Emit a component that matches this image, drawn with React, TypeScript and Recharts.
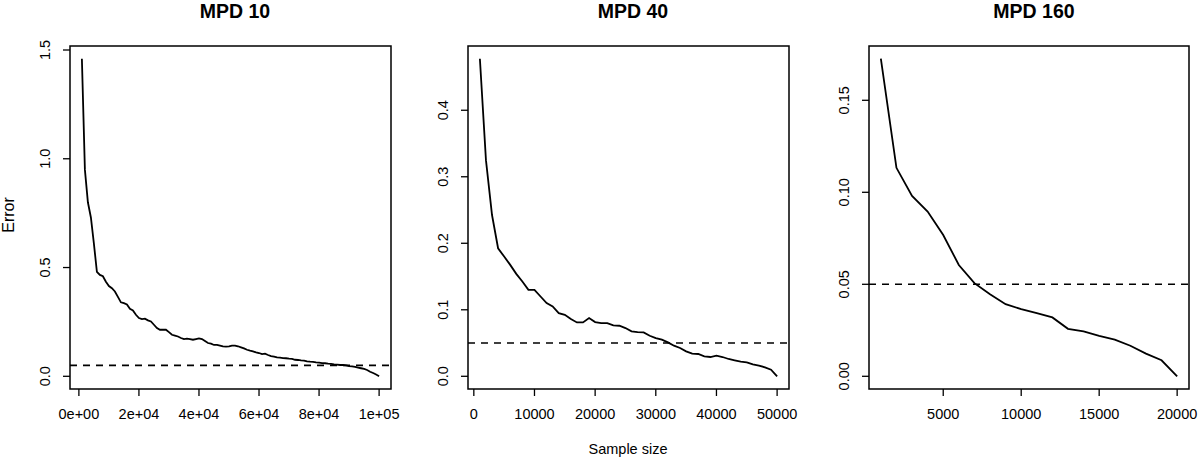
import React from 'react'
import { LineChart, Line, XAxis, YAxis, ReferenceLine, ReferenceArea } from 'recharts'

// sample sizes (thousands) and errors
const sizesK10 = [
  1, 2, 3, 4, 5, 6, 7, 8, 9, 10, 11, 12, 13, 14, 15, 16, 17, 18, 19, 20,
  21, 22, 23, 24, 25, 26, 27, 28, 29, 30, 31, 32, 33, 34, 35, 36, 37, 38, 39, 40,
  41, 42, 43, 44, 45, 46, 47, 48, 49, 50, 51, 52, 53, 54, 55, 56, 57, 58, 59, 60,
  61, 62, 63, 64, 65, 66, 67, 68, 69, 70, 71, 72, 73, 74, 75, 76, 77, 78, 79, 80,
  81, 82, 83, 84, 85, 86, 87, 88, 89, 90, 91, 92, 93, 94, 95, 96, 97, 98, 99, 100,
]
const error10 = [
  1.46, 0.95, 0.8, 0.73, 0.61, 0.48, 0.466, 0.46, 0.435, 0.415,
  0.405, 0.39, 0.365, 0.34, 0.336, 0.33, 0.31, 0.303, 0.283, 0.268,
  0.263, 0.265, 0.257, 0.252, 0.237, 0.222, 0.214, 0.214, 0.214, 0.203,
  0.191, 0.187, 0.183, 0.176, 0.171, 0.173, 0.171, 0.168, 0.171, 0.174,
  0.171, 0.162, 0.153, 0.15, 0.144, 0.144, 0.141, 0.138, 0.136, 0.138,
  0.141, 0.141, 0.138, 0.133, 0.128, 0.122, 0.118, 0.115, 0.11, 0.107,
  0.102, 0.104, 0.098, 0.093, 0.09, 0.087, 0.086, 0.084, 0.083, 0.081,
  0.08, 0.076, 0.075, 0.073, 0.072, 0.069, 0.067, 0.066, 0.064, 0.063,
  0.061, 0.06, 0.058, 0.057, 0.055, 0.054, 0.052, 0.052, 0.05, 0.047,
  0.046, 0.043, 0.04, 0.037, 0.034, 0.029, 0.021, 0.015, 0.008, 0,
]

const sizesK40 = [
  1, 2, 3, 4, 5, 6, 7, 8, 9, 10, 11, 12, 13, 14, 15, 16, 17, 18, 19, 20,
  21, 22, 23, 24, 25, 26, 27, 28, 29, 30, 31, 32, 33, 34, 35, 36, 37, 38, 39, 40,
  41, 42, 43, 44, 45, 46, 47, 48, 49, 50,
]
const error40 = [
  0.4775, 0.325, 0.2425, 0.1925, 0.18, 0.1675, 0.154, 0.1425, 0.13, 0.13,
  0.12, 0.11, 0.105, 0.095, 0.0925, 0.086, 0.081, 0.081, 0.0875, 0.0815,
  0.08, 0.08, 0.0765, 0.076, 0.0725, 0.0675, 0.0665, 0.066, 0.061, 0.0575,
  0.055, 0.051, 0.046, 0.0425, 0.0375, 0.034, 0.0335, 0.03, 0.029, 0.031,
  0.029, 0.026, 0.024, 0.022, 0.021, 0.018, 0.016, 0.0135, 0.01, 0,
]

const sizesK160 = [1, 2, 3, 4, 5, 6, 7, 8, 9, 10, 11, 12, 13, 14, 15, 16, 17, 18, 19, 20]
const error160 = [
  0.1726, 0.1133, 0.098, 0.0895, 0.0768, 0.0605, 0.0506, 0.0446, 0.0392, 0.0365,
  0.0343, 0.032, 0.0258, 0.0244, 0.022, 0.0199, 0.0166, 0.0123, 0.0087, 0,
]

const threshold = 0.05

const ticks10X = [0, 20000, 40000, 60000, 80000, 100000]
const ticks40X = [0, 10000, 20000, 30000, 40000, 50000]
const ticks160X = [5000, 10000, 15000, 20000]
const ticks10Y = [0, 0.5, 1.0, 1.5]
const ticks40Y = [0, 0.1, 0.2, 0.3, 0.4]
const ticks160Y = [0, 0.05, 0.1, 0.15]

const FONT = '"Liberation Sans", Arial, Helvetica, sans-serif'

const toRows = (sizesK: number[], errs: number[]) =>
  sizesK.map((k, i) => ({ n: k * 1000, err: errs[i] }))

// R style 4% padding around data range
const pad = (lo: number, hi: number): [number, number] => {
  const d = (hi - lo) * 0.04
  return [lo - d, hi + d]
}

const sci = (v: number) => {
  if (v === 0) return '0e+00'
  const e = Math.floor(Math.log10(v))
  const m = Math.round(v / Math.pow(10, e))
  return `${m}e+${String(e).padStart(2, '0')}`
}

const RotTick = (props: any) => {
  const { x, y, payload, digits } = props
  return (
    <text
      transform={`translate(${x - 18},${y}) rotate(-90)`}
      textAnchor="middle"
      dominantBaseline="central"
      fontSize={14.5}
      fontFamily={FONT}
      fill="#000"
    >
      {Number(payload.value).toFixed(digits)}
    </text>
  )
}

type PanelProps = {
  left: number
  marginLeft: number
  marginRight: number
  rows: { n: number; err: number }[]
  xTicks: number[]
  xFmt: (v: number) => string
  yTicks: number[]
  yDigits: number
}

const Panel: React.FC<PanelProps> = ({ left, marginLeft, marginRight, rows, xTicks, xFmt, yTicks, yDigits }) => {
  const xs = rows.map((r) => r.n)
  const ys = rows.map((r) => r.err)
  const xDom = pad(Math.min(...xs), Math.max(...xs))
  const yDom = pad(Math.min(...ys), Math.max(...ys))
  return (
    <div style={{ position: 'absolute', left, top: 0 }}>
      <LineChart
        width={400}
        height={458}
        data={rows}
        margin={{ top: 46, right: marginRight, bottom: 19, left: marginLeft }}
      >
        <XAxis
          dataKey="n"
          type="number"
          domain={xDom}
          allowDataOverflow
          ticks={xTicks}
          interval={0}
          tickFormatter={xFmt}
          axisLine={false}
          tickLine={{ stroke: '#000', strokeWidth: 1.3 }}
          tickSize={7}
          tickMargin={13}
          height={50}
          tick={{ fill: '#000', fontSize: 14.5, fontFamily: FONT }}
        />
        <YAxis
          type="number"
          domain={yDom}
          allowDataOverflow
          ticks={yTicks}
          interval={0}
          axisLine={false}
          tickLine={{ stroke: '#000', strokeWidth: 1.3 }}
          tickSize={7}
          tickMargin={0}
          width={50}
          tick={(p: any) => <RotTick {...p} digits={yDigits} />}
        />
        <ReferenceLine y={threshold} stroke="#000" strokeWidth={1.6} strokeDasharray="7 6" />
        <Line
          type="linear"
          dataKey="err"
          stroke="#000"
          strokeWidth={1.8}
          dot={false}
          isAnimationActive={false}
        />
        <ReferenceArea
          x1={xDom[0]}
          x2={xDom[1]}
          y1={yDom[0]}
          y2={yDom[1]}
          fill="none"
          fillOpacity={0}
          stroke="#000"
          strokeWidth={1.5}
          ifOverflow="visible"
        />
      </LineChart>
    </div>
  )
}

const App: React.FC = () => {
  return (
    <div style={{ position: 'absolute', left: 0, top: 0, width: 1200, height: 458, background: '#fff' }}>
      <Panel
        left={0}
        marginLeft={20}
        marginRight={9}
        rows={toRows(sizesK10, error10)}
        xTicks={ticks10X}
        xFmt={sci}
        yTicks={ticks10Y}
        yDigits={1}
      />
      <Panel
        left={400}
        marginLeft={18}
        marginRight={11}
        rows={toRows(sizesK40, error40)}
        xTicks={ticks40X}
        xFmt={(v) => String(v)}
        yTicks={ticks40Y}
        yDigits={1}
      />
      <Panel
        left={800}
        marginLeft={19}
        marginRight={11}
        rows={toRows(sizesK160, error160)}
        xTicks={ticks160X}
        xFmt={(v) => String(v)}
        yTicks={ticks160Y}
        yDigits={2}
      />
      <svg
        width={1200}
        height={458}
        style={{ position: 'absolute', left: 0, top: 0, pointerEvents: 'none' }}
        fontFamily={FONT}
      >
        <text x={235} y={17.5} textAnchor="middle" fontSize={19.5} fontWeight="bold" fill="#000">MPD 10</text>
        <text x={633} y={17.5} textAnchor="middle" fontSize={19.5} fontWeight="bold" fill="#000">MPD 40</text>
        <text x={1034} y={17.5} textAnchor="middle" fontSize={19.5} fontWeight="bold" fill="#000">MPD 160</text>
        <text
          transform="translate(14,215) rotate(-90)"
          textAnchor="middle"
          fontSize={16}
          fill="#000"
        >
          Error
        </text>
        <text x={628} y={454} textAnchor="middle" fontSize={14.5} fill="#000">Sample size</text>
      </svg>
    </div>
  )
}

export default App
